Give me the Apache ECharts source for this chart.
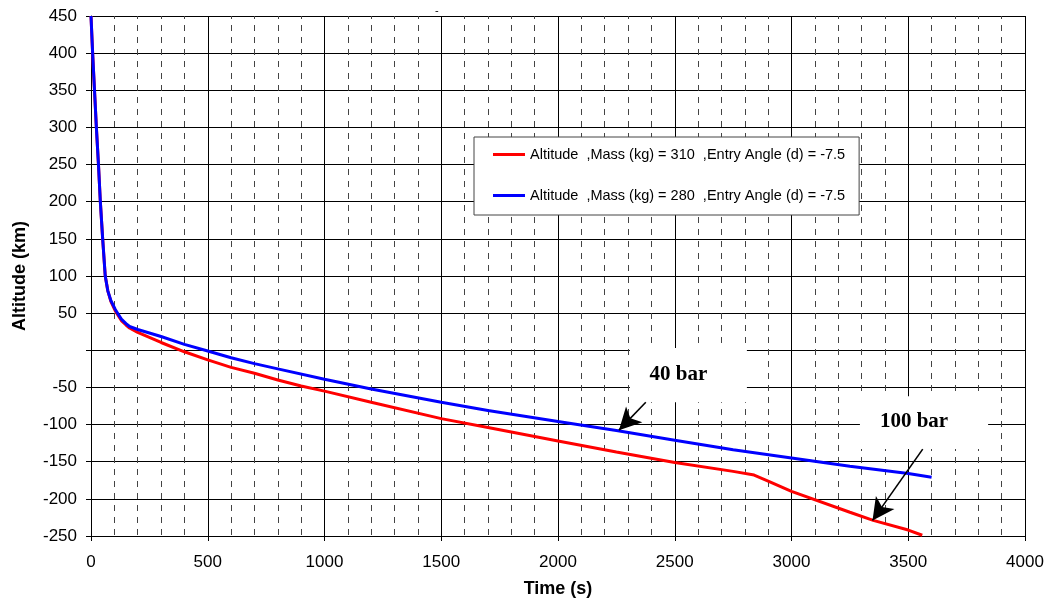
<!DOCTYPE html>
<html>
<head>
<meta charset="utf-8">
<script src="https://cdn.jsdelivr.net/npm/echarts@6/dist/echarts.min.js"></script>
<style>
  html, body { margin: 0; padding: 0; background: #ffffff; }
  #chart { width: 1051px; height: 603px; }
</style>
</head>
<body>
<div id="chart"></div>
<script>
// Descent profiles: [time (s), altitude (km)]
const mass310 = [
  [0, 450], [7, 400], [15, 350], [23, 300], [32, 250], [40, 200], [50, 150],
  [61, 100], [72, 80], [85, 66], [104, 53], [130, 40], [150, 34], [165, 30],
  [200, 24], [300, 10.5], [400, -2], [500, -13], [600, -23], [700, -31],
  [800, -40], [900, -48], [1000, -55], [1200, -70], [1500, -92], [1700, -104],
  [2000, -122], [2250, -137], [2500, -151], [2750, -163], [2840, -168],
  [2900, -176], [3000, -190], [3250, -218], [3350, -229], [3500, -242], [3560, -249]
];
const mass280 = [
  [0, 450], [7, 400], [15, 350], [23, 300], [32, 250], [40, 200], [50, 150],
  [61, 100], [72, 80], [85, 67], [104, 55], [130, 42], [150, 36], [165, 32],
  [200, 28], [300, 18.5], [400, 8], [500, -1], [600, -10], [700, -18],
  [800, -25], [1000, -39], [1200, -52], [1500, -70], [1700, -81], [2000, -96],
  [2250, -108], [2500, -121], [2750, -134], [3000, -145], [3250, -156],
  [3500, -166], [3600, -171]
];
const seriesNames = [
  'Altitude  ,Mass (kg) = 310  ,Entry Angle (d) = -7.5',
  'Altitude  ,Mass (kg) = 280  ,Entry Angle (d) = -7.5'
];
const xTicks = { min: 0, max: 4000, step: 500 };
const yTicks = { min: -250, max: 450, step: 50 };

// Pressure callouts (box corners and arrow ends in data units)
const callouts = [
  { text: '40 bar', box: [[2308, 3], [2809, -70]], from: [2376, -70], to: [2261, -107.5] },
  { text: '100 bar', box: [[3293, -62], [3842, -133]], from: [3562, -133], to: [3347, -229] }
];

const sansFont = '"Liberation Sans", Arial, sans-serif';
const chart = echarts.init(document.getElementById('chart'), null, { renderer: 'canvas' });

chart.setOption({
  animation: false,
  backgroundColor: '#ffffff',
  title: {
    text: '-', left: 430, top: 0,
    textStyle: { fontSize: 11, fontWeight: 'normal', color: '#000', fontFamily: sansFont }
  },
  grid: { left: 91, right: 26, top: 16, bottom: 66, containLabel: false },
  legend: {
    orient: 'vertical',
    left: 474, top: 137,
    data: seriesNames,
    icon: 'rect',
    itemWidth: 32, itemHeight: 3,
    itemGap: 26,
    padding: [10, 14, 12, 19],
    backgroundColor: '#ffffff',
    borderColor: '#444', borderWidth: 1, borderRadius: 0,
    selectedMode: false,
    textStyle: { fontSize: 14.5, color: '#000', fontFamily: sansFont }
  },
  xAxis: {
    type: 'value',
    min: xTicks.min, max: xTicks.max, interval: xTicks.step,
    name: 'Time (s)', nameLocation: 'middle', nameGap: 44,
    nameTextStyle: { fontSize: 18, fontWeight: 'bold', color: '#000', fontFamily: sansFont },
    axisLine: { onZero: false, lineStyle: { color: '#000', width: 1 } },
    axisTick: { show: true, inside: false, length: 5, lineStyle: { color: '#000' } },
    axisLabel: {
      margin: 18, fontSize: 17, color: '#000', fontFamily: sansFont,
      formatter: v => String(v)
    },
    splitLine: { show: true, lineStyle: { color: '#000', width: 1 } },
    minorTick: { show: false, splitNumber: 5 },
    minorSplitLine: { show: true, lineStyle: { color: '#444', width: 1, type: [6, 6], dashOffset: 3 } }
  },
  yAxis: {
    type: 'value',
    min: yTicks.min, max: yTicks.max, interval: yTicks.step,
    name: 'Altitude (km)', nameLocation: 'middle', nameGap: 62,
    nameTextStyle: { fontSize: 18, fontWeight: 'bold', color: '#000', fontFamily: sansFont },
    axisLine: { show: true, lineStyle: { color: '#000', width: 1 } },
    axisTick: { show: true, inside: false, length: 5, lineStyle: { color: '#000' } },
    axisLabel: {
      margin: 14, fontSize: 17, color: '#000', fontFamily: sansFont,
      formatter: v => (v === 0 ? '' : String(v))
    },
    splitLine: { show: true, lineStyle: { color: '#000', width: 1 } }
  },
  series: [
    {
      name: seriesNames[0],
      type: 'line',
      data: mass310,
      showSymbol: false,
      lineStyle: { color: '#ff0000', width: 3 },
      itemStyle: { color: '#ff0000' },
      z: 3,
      markArea: {
        silent: true,
        itemStyle: { color: '#ffffff', borderWidth: 0 },
        label: {
          show: true, position: 'inside',
          fontFamily: '"Liberation Serif", "Times New Roman", serif',
          fontWeight: 'bold', fontSize: 21, color: '#000'
        },
        data: callouts.map(c => [
          { coord: c.box[0], name: c.text, label: { offset: [-10, -1] } },
          { coord: c.box[1] }
        ])
      }
    },
    {
      name: seriesNames[1],
      type: 'line',
      data: mass280,
      showSymbol: false,
      lineStyle: { color: '#0000ff', width: 3 },
      itemStyle: { color: '#0000ff' },
      z: 4,
      markLine: {
        silent: true,
        symbol: ['none', 'arrow'],
        symbolSize: [17, 22],
        label: { show: false },
        lineStyle: { color: '#000', width: 1.6, type: 'solid' },
        itemStyle: { color: '#000' },
        emphasis: { disabled: true },
        data: callouts.map(c => [{ coord: c.from }, { coord: c.to }])
      }
    }
  ]
});
</script>
</body>
</html>
